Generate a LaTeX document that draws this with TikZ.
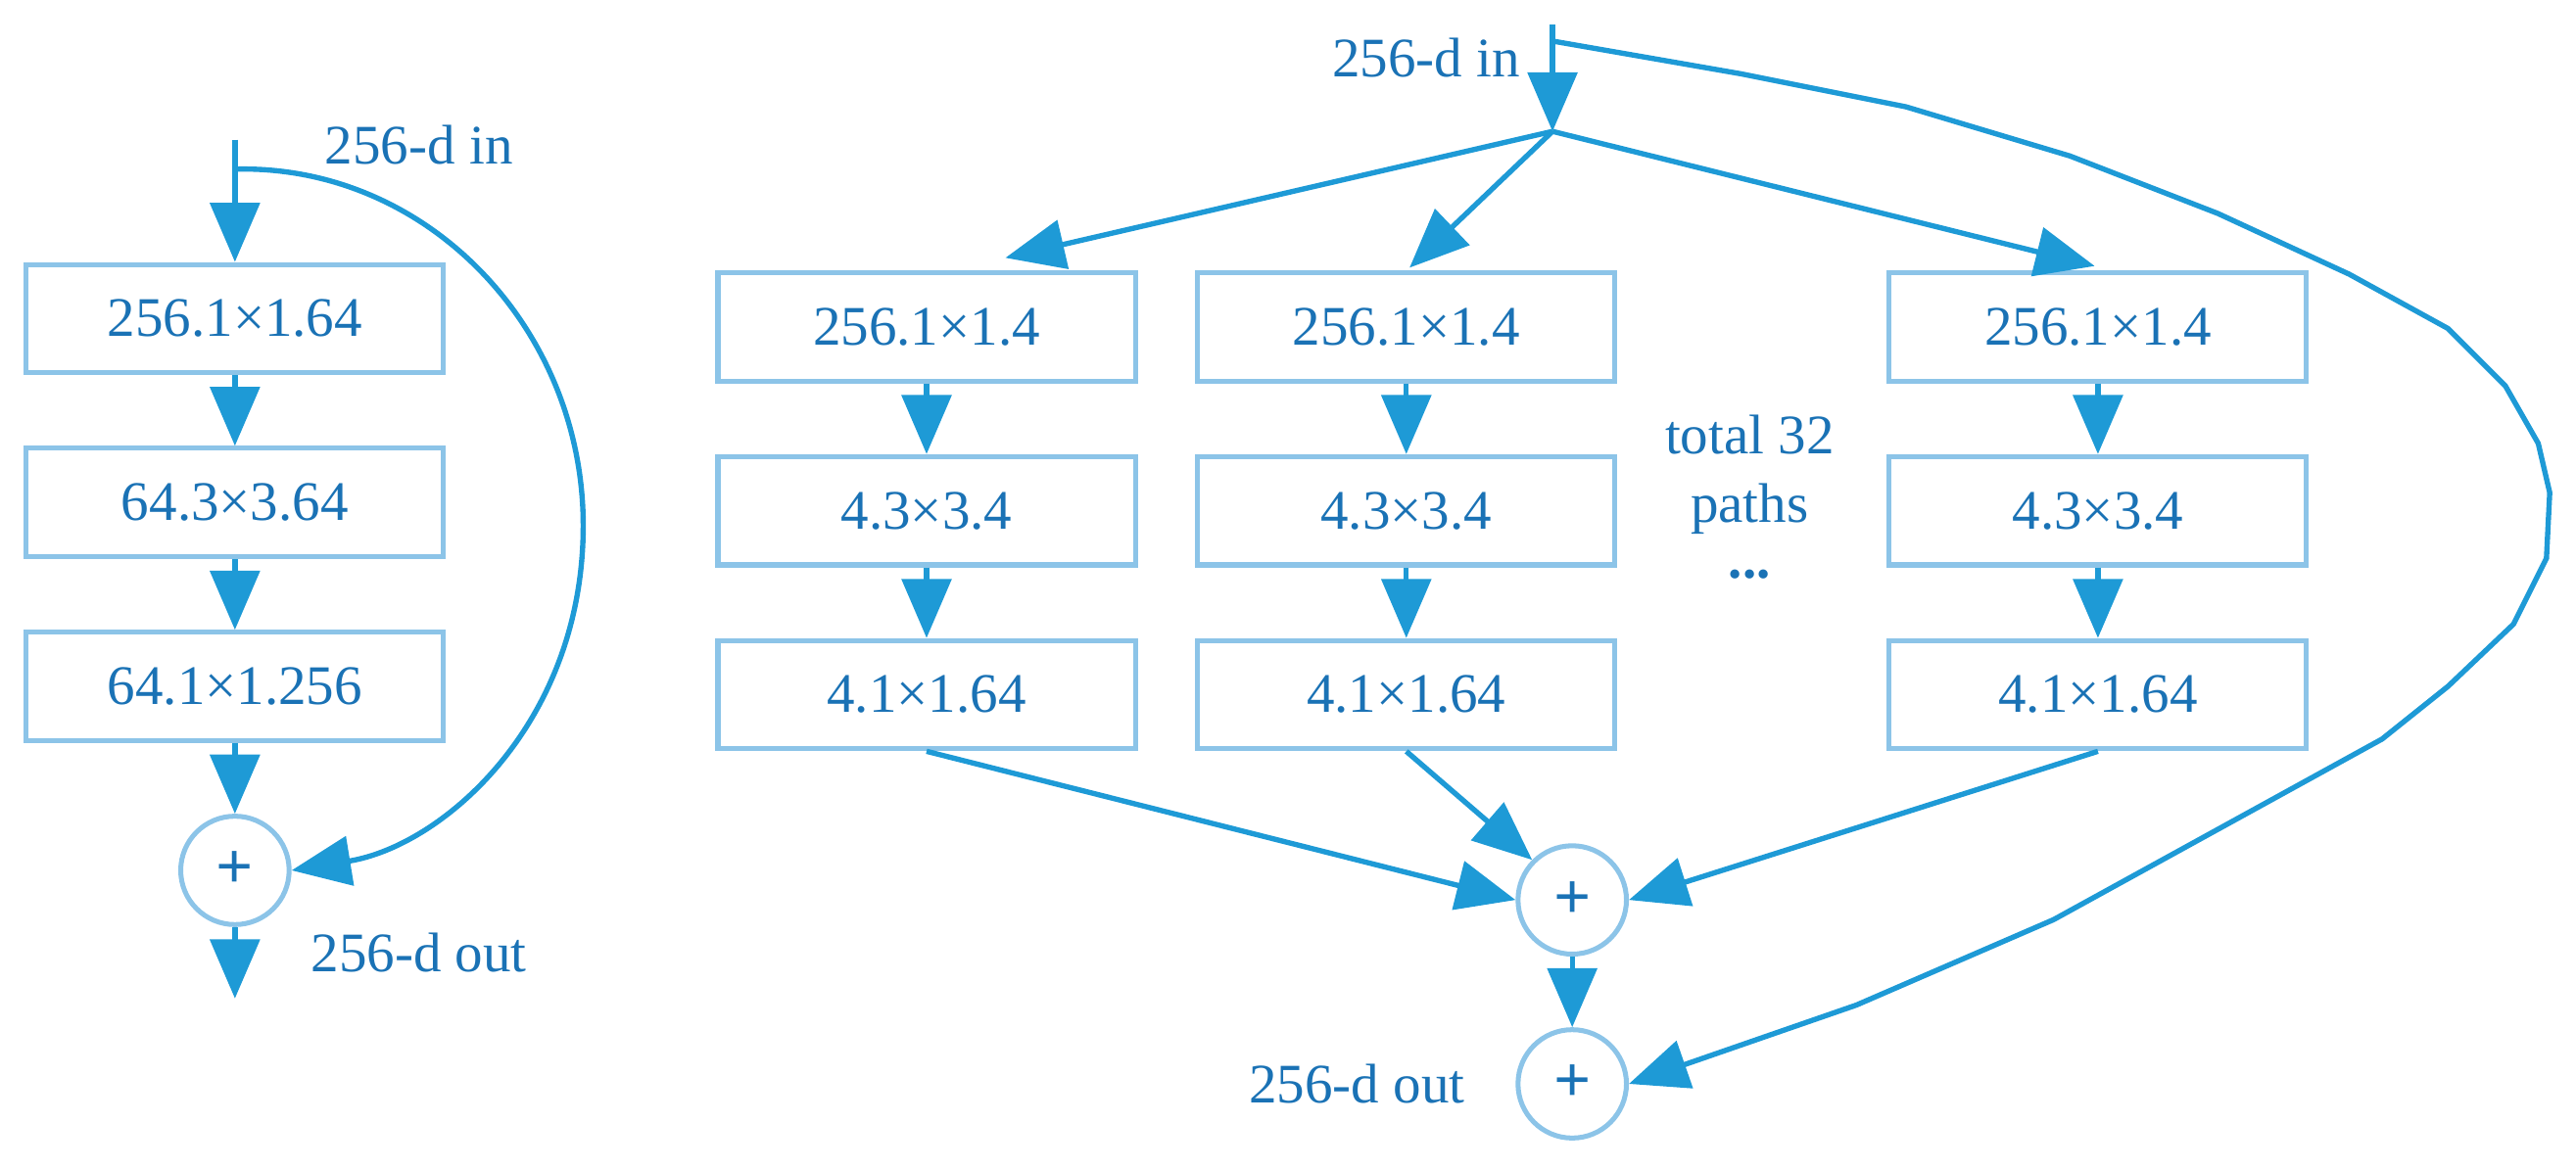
\documentclass[tikz,border=0pt]{standalone}
\usepackage{fontspec}
\setmainfont{Liberation Serif}
\usetikzlibrary{arrows.meta}
\definecolor{ln}{HTML}{1E9AD6}
\definecolor{bx}{HTML}{8CC4E8}
\definecolor{tx}{HTML}{1A72B5}
\begin{document}
\begin{tikzpicture}[x=1pt,y=-1pt,
 every node/.style={text=tx,font=\fontsize{34}{38}\selectfont},
 box/.style={draw=bx,line width=3pt,minimum width=254pt,minimum height=66pt,inner sep=0},
 sum/.style={draw=bx,line width=3pt,circle,minimum size=66pt,inner sep=0,font=\fontsize{40}{40}\selectfont\bfseries},
 ar/.style={draw=ln,line width=3.2pt,-{Triangle[length=36pt,width=30pt]}},
 ln/.style={draw=ln,line width=3.2pt}]
\useasboundingbox (0,0) rectangle (1568,712);
% left
\node[box] (l1) at (143,194) {256.1×1.64};
\node[box] (l2) at (143,306) {64.3×3.64};
\node[box] (l3) at (143,418) {64.1×1.256};
\node[sum] (ls) at (143,530) {+};
\coordinate (lin) at (143,85);
\coordinate (lout) at (143,608);
\node (lil) at (255,88) {256-d in};
\node (lol) at (255,580) {256-d out};
\draw[ar] (lin) -- (l1);
\draw[ar] (l1) -- (l2);
\draw[ar] (l2) -- (l3);
\draw[ar] (l3) -- (ls);
\draw[ar] (ls) -- (lout);
\draw[ar] (143,103) .. controls (260,100) and (355,200) .. (355,320) .. controls (355,440) and (270,515) .. (ls.east);
% right
\foreach \n/\x in {a/564,b/856,c/1277}{
 \node[box] (\n1) at (\x,199) {256.1×1.4};
 \node[box] (\n2) at (\x,311) {4.3×3.4};
 \node[box] (\n3) at (\x,423) {4.1×1.64};
 \draw[ar] (\n1) -- (\n2);
 \draw[ar] (\n2) -- (\n3);
}
\node[sum] (s1) at (957,548) {+};
\node[sum] (s2) at (957,660) {+};
\coordinate (rtop) at (945,15);
\coordinate (rsplit) at (945,80);
\node (ril) at (868,35) {256-d in};
\node (rol) at (826,660) {256-d out};
\node (t1) at (1065,265) {total 32};
\node (t2) at (1065,310) {paths};
\node (t3) at (1065,350) {\textbf{...}};
\draw[ar] (rtop) -- (rsplit);
\draw[ar] (rsplit) -- (612,157);
\draw[ar] (rsplit) -- (858,163);
\draw[ar] (rsplit) -- (1275,162);
\draw[ar] (a3.south) -- (s1.west);
\draw[ar] (b3.south) -- (s1.north west);
\draw[ar] (c3.south) -- (s1.east);
\draw[ar] (s1) -- (s2);
\draw[ar] (945,25) -- (1060,45) -- (1160,65) -- (1260,95) -- (1350,130) -- (1430,167) -- (1490,200) -- (1525,235) -- (1545,270) -- (1552,300) -- (1550,340) -- (1530,380) -- (1490,418) -- (1450,450) -- (1350,505) -- (1250,560) -- (1130,612) -- (s2.east);
\end{tikzpicture}
\end{document}
